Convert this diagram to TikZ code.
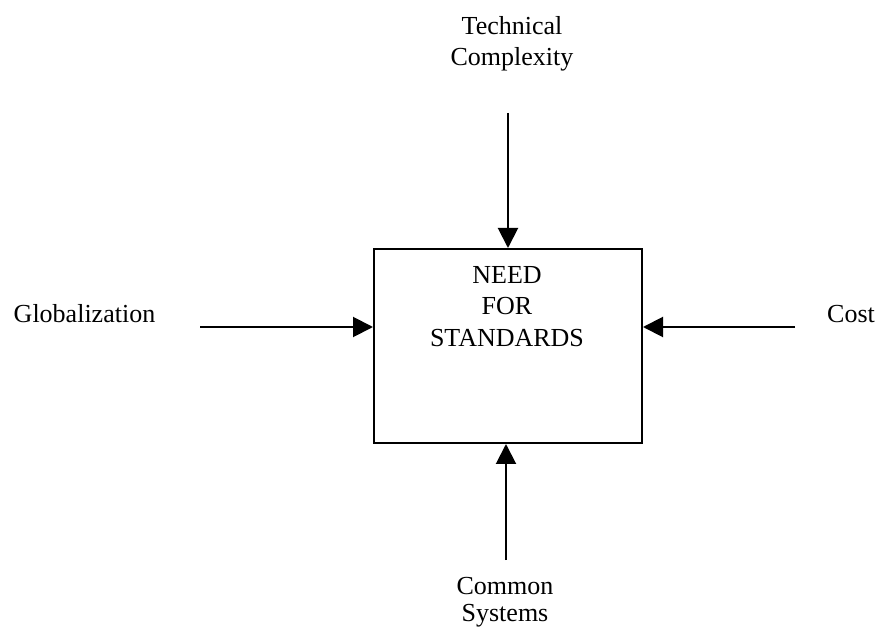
\documentclass[tikz,border=0pt]{standalone}
\usepackage{fontspec}
\setmainfont{Liberation Serif}
\usepackage{tikz}
\usetikzlibrary{arrows.meta, positioning, calc}

\begin{document}
\begin{tikzpicture}[
    x=0.5pt, y=-0.5pt,
    font=\fontsize{13}{15.75}\selectfont,
    >={Triangle[length=10pt, width=10pt]},
    needbox/.style={
      draw,
      line width=1pt,
      minimum width=134pt,
      minimum height=97pt,
      inner sep=0pt
    },
    factor/.style={
      align=center,
      inner sep=0pt
    },
    arrow/.style={->, line width=1pt}
]
\useasboundingbox (0,0) rectangle (880,631);

% 1) Central box
\node[needbox] (need) at (508,346) {};
\node[factor, anchor=north] (needText) at (507,266) {NEED\\FOR\\STANDARDS};

% 2) Influencing factors
\node[factor, anchor=north] (tech) at (512,16) {Technical\\Complexity};
\node[factor, anchor=base] (glob) at (84.5,323) {Globalization};
\node[factor, anchor=base] (cost) at (851,323) {Cost};
\node[factor, anchor=north, font=\fontsize{13}{13.5}\selectfont] (common) at (505,577) {Common\\Systems};

% free ends of the arrows
\coordinate (techEnd) at (508,113);
\coordinate (globEnd) at (200,327);
\coordinate (costEnd) at (795,327);
\coordinate (commonEnd) at (506,560);

% ARROWS
\draw[arrow] (techEnd) -- (need.north);
\draw[arrow] (globEnd) -- (globEnd -| need.west);
\draw[arrow] (costEnd) -- (costEnd -| need.east);
\draw[arrow] (commonEnd) -- (commonEnd |- need.south);

\end{tikzpicture}
\end{document}
